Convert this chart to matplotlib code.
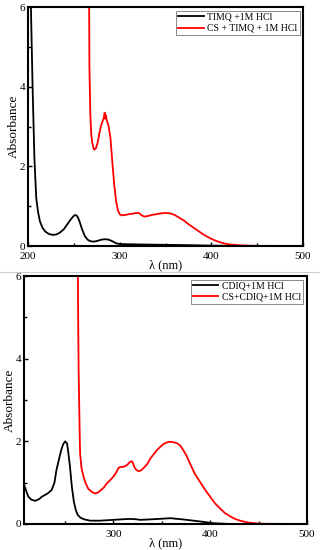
import matplotlib.pyplot as plt
from matplotlib.lines import Line2D

plt.rcParams["font.family"] = ["Liberation Serif", "DejaVu Serif"]

# top panel: TIMQ
timq_wl = [200, 203, 205, 207, 209, 211, 213, 216, 219, 223, 227, 231, 235, 239, 243, 247, 250, 252,
           254, 256, 259, 262, 265, 268, 272, 276, 280, 284, 288, 292, 296, 300, 320, 350, 380, 400, 420, 440, 500]
timq_abs = [7.0, 6.2, 4.0, 2.2, 1.2, 0.85, 0.62, 0.45, 0.36, 0.30, 0.28, 0.29, 0.34, 0.42, 0.55, 0.68, 0.76, 0.78,
            0.74, 0.63, 0.42, 0.25, 0.16, 0.12, 0.11, 0.13, 0.16, 0.17, 0.16, 0.12, 0.07, 0.05, 0.04, 0.03, 0.02, 0.01, 0.005, 0.0, 0.0]

cs_timq_wl = [266.5, 267, 268, 269, 270, 272, 274, 276, 278, 280, 282, 283, 283.6, 284.2, 285, 286, 288, 290,
              292, 294, 296, 298, 300, 302, 306, 310, 314, 318, 321, 324, 327, 330, 335, 340, 345, 350, 355,
              360, 365, 370, 375, 380, 385, 390, 395, 400, 405, 410, 415, 420, 430, 440, 450, 500]
cs_timq_abs = [7.0, 4.5, 3.3, 2.8, 2.6, 2.42, 2.45, 2.6, 2.85, 3.05, 3.17, 3.25, 3.35, 3.2, 3.28, 3.15, 3.0, 2.7,
               2.1, 1.55, 1.15, 0.9, 0.8, 0.77, 0.78, 0.80, 0.81, 0.83, 0.83, 0.77, 0.74, 0.75, 0.78, 0.80, 0.82, 0.83, 0.82,
               0.78, 0.71, 0.64, 0.55, 0.47, 0.39, 0.31, 0.24, 0.18, 0.13, 0.09, 0.06, 0.04, 0.02, 0.01, 0.005, 0.0]

# bottom panel: CDIQ
cdiq_wl = [207, 209, 212, 215, 219, 223, 226, 229, 232, 236, 239, 241, 244, 246, 248, 250, 252, 253, 255,
           257, 259, 261, 263, 266, 270, 276, 286, 300, 314, 321, 328, 345, 359, 372, 390, 403, 420, 500]
cdiq_abs = [1.0, 0.85, 0.66, 0.59, 0.56, 0.6, 0.66, 0.7, 0.74, 0.82, 1.0, 1.3, 1.6, 1.79, 1.93, 2.0, 1.95, 1.79, 1.4,
            0.9, 0.55, 0.34, 0.22, 0.15, 0.11, 0.08, 0.08, 0.1, 0.12, 0.12, 0.1, 0.12, 0.14, 0.11, 0.06, 0.02, 0.0, 0.0]

cs_cdiq_wl = [263, 263.5, 264, 265, 265.5, 267, 269, 271, 274, 278, 281, 284, 286, 290, 293, 297, 300, 303,
              305, 307, 310, 313, 315, 317, 319, 320, 322, 324, 326, 328, 331, 335, 338, 342, 345, 349, 352,
              356, 359, 362, 366, 369, 371, 375, 379, 384, 390, 395, 400, 405, 410, 415, 421, 426, 431, 438, 445, 455, 500]
cs_cdiq_abs = [7.0, 5.0, 3.7, 2.3, 1.7, 1.35, 1.15, 1.0, 0.85, 0.77, 0.74, 0.76, 0.8, 0.88, 0.98, 1.07, 1.15, 1.25,
               1.35, 1.38, 1.38, 1.41, 1.45, 1.5, 1.52, 1.48, 1.36, 1.3, 1.28, 1.29, 1.35, 1.45, 1.58, 1.7, 1.79, 1.88, 1.94,
               1.98, 1.99, 1.98, 1.95, 1.9, 1.83, 1.68, 1.47, 1.22, 1.0, 0.82, 0.66, 0.5, 0.38, 0.27, 0.18, 0.12, 0.08, 0.04, 0.02, 0.005, 0.0]

timq_labels = ["TIMQ +1M HCl", "CS + TIMQ + 1M HCl"]
cdiq_labels = ["CDIQ+1M HCl", "CS+CDIQ+1M HCl"]

fig = plt.figure(figsize=(3.2, 5.5), dpi=100)
ax1 = fig.add_axes([0.0875, 0.5527, 0.8595, 0.4343])
ax2 = fig.add_axes([0.075, 0.0473, 0.884, 0.4507])


def style(ax, xlim, labels, lines):
    ax.set_xlim(*xlim)
    ax.set_ylim(0, 6)
    ax.set_xticks([300, 400, 500] if xlim[0] > 200 else [200, 300, 400, 500])
    ax.set_xticks([250, 350, 450], minor=True)
    ax.set_yticks([0, 2, 4, 6])
    ax.set_yticks([1, 3, 5], minor=True)
    ax.tick_params(which="both", direction="in", labelsize=8, width=1)
    ax.tick_params(axis="y", pad=2)
    ax.tick_params(axis="x", pad=4)
    ax.tick_params(which="major", length=3)
    ax.tick_params(which="minor", length=2)
    for sp in ax.spines.values():
        sp.set_linewidth(1.5)
    ax.set_xlabel("λ (nm)", fontsize=9, labelpad=-1)
    ax.set_ylabel("Absorbance", fontsize=9.5, labelpad=0)
    leg = ax.legend(lines, labels, loc="upper right", fontsize=7, frameon=True, fancybox=False,
                    borderpad=0.2, handlelength=2.6, handletextpad=0.4, labelspacing=0.25,
                    borderaxespad=0.35)
    leg.get_frame().set_edgecolor("#555555")
    leg.get_frame().set_linewidth(0.6)


l1, = ax1.plot(timq_wl, timq_abs, color="black", lw=1.3)
l2, = ax1.plot(cs_timq_wl, cs_timq_abs, color="#ff0000", lw=1.3)
style(ax1, (200, 500), timq_labels, [l1, l2])

l3, = ax2.plot(cdiq_wl, cdiq_abs, color="black", lw=1.3)
l4, = ax2.plot(cs_cdiq_wl, cs_cdiq_abs, color="#ff0000", lw=1.3)
style(ax2, (207.5, 500), cdiq_labels, [l3, l4])

fig.add_artist(Line2D([0.0, 1.0], [1 - 272 / 550, 1 - 272 / 550], color="#cccccc", lw=0.8))

fig.savefig("out.png", dpi=100)
